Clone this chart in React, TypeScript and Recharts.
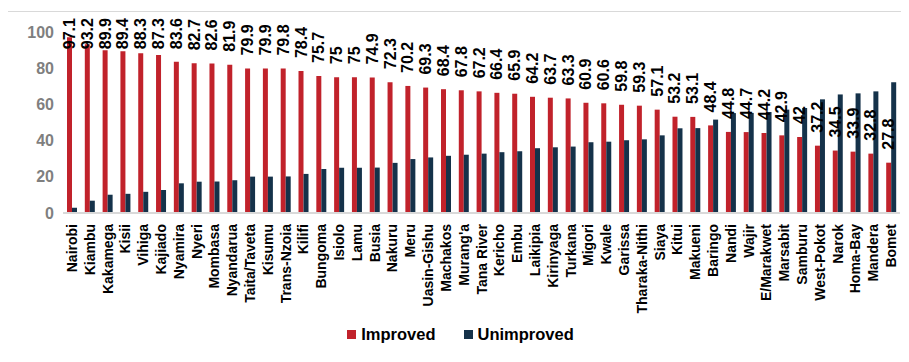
import { BarChart, Bar, XAxis, YAxis, Legend, LabelList } from 'recharts'

const counties = [
  'Nairobi', 'Kiambu', 'Kakamega', 'Kisii', 'Vihiga', 'Kajiado', 'Nyamira', 'Nyeri', 'Mombasa', 'Nyandarua',
  'Taita/Taveta', 'Kisumu', 'Trans-Nzoia', 'Kilifi', 'Bungoma', 'Isiolo', 'Lamu', 'Busia', 'Nakuru', 'Meru',
  'Uasin-Gishu', 'Machakos', "Murang'a", 'Tana River', 'Kericho', 'Embu', 'Laikipia', 'Kirinyaga', 'Turkana', 'Migori',
  'Kwale', 'Garissa', 'Tharaka-Nithi', 'Siaya', 'Kitui', 'Makueni', 'Baringo', 'Nandi', 'Wajir', 'E/Marakwet',
  'Marsabit', 'Samburu', 'West-Pokot', 'Narok', 'Homa-Bay', 'Mandera', 'Bomet',
]

const improved = [
  97.1, 93.2, 89.9, 89.4, 88.3, 87.3, 83.6, 82.7, 82.6, 81.9,
  79.9, 79.9, 79.8, 78.4, 75.7, 75, 75, 74.9, 72.3, 70.2,
  69.3, 68.4, 67.8, 67.2, 66.4, 65.9, 64.2, 63.7, 63.3, 60.9,
  60.6, 59.8, 59.3, 57.1, 53.2, 53.1, 48.4, 44.8, 44.7, 44.2,
  42.9, 42, 37.2, 34.5, 33.9, 32.8, 27.8,
]

const unimproved = [
  2.9, 6.8, 10.1, 10.6, 11.7, 12.7, 16.4, 17.3, 17.4, 18.1,
  20.1, 20.1, 20.2, 21.6, 24.3, 25, 25, 25.1, 27.7, 29.8,
  30.7, 31.6, 32.2, 32.8, 33.6, 34.1, 35.8, 36.3, 36.7, 39.1,
  39.4, 40.2, 40.7, 42.9, 46.8, 46.9, 51.6, 55.2, 55.3, 55.8,
  57.1, 58, 62.8, 65.5, 66.1, 67.2, 72.2,
]

const yTicks = [0, 20, 40, 60, 80, 100]

const RED = '#C1222B'
const NAVY = '#15324A'
const FONT = '"Liberation Sans", Arial, sans-serif'

const data = counties.map((name, i) => ({ name, improved: improved[i], unimproved: unimproved[i] }))

// labels of the red bars, drawn on the navy series so they stay on top
const ValueLabel = (props: any) => {
  const x = Number(props.x), y = Number(props.y), w = Number(props.width), h = Number(props.height)
  const v = props.value
  const bottom = y + h
  const top = bottom - (v * h) / unimproved[props.index]
  const cx = x - w / 2
  const s = String(v)
  const len = s.replace('.', '').length * 8.9 + (s.includes('.') ? 4.5 : 0)
  const ay = Math.max(top - 13, 6 + len)
  return (
    <text x={cx} y={ay} transform={`rotate(-90 ${cx} ${ay})`} textAnchor="start" dominantBaseline="central"
      fontFamily={FONT} fontSize={16} fontWeight="bold" fill="#000">{s}</text>
  )
}

const CountyTick = ({ x, y, payload }: any) => {
  const ty = y + 9
  return (
    <text x={x} y={ty} transform={`rotate(-90 ${x} ${ty})`} textAnchor="end" dominantBaseline="central"
      fontFamily={FONT} fontSize={14} fontWeight="bold" fill="#000">{payload.value}</text>
  )
}

const LegendBox = () => (
  <div style={{ display: 'flex', justifyContent: 'center', gap: 28, fontFamily: FONT, fontWeight: 'bold', fontSize: 16.5, paddingLeft: 14 }}>
    {[['Improved', RED], ['Unimproved', NAVY]].map(([label, c]) => (
      <span key={label} style={{ display: 'flex', alignItems: 'center' }}>
        <span style={{ width: 9, height: 9, background: c, marginRight: 5, display: 'inline-block' }} />
        {label}
      </span>
    ))}
  </div>
)

export default function App() {
  return (
    <div style={{ margin: '3px 0 0 -2px', width: 912, height: 360, border: '1px solid #d9d9d9' }}>
      <BarChart width={903} height={350} data={data} margin={{ top: 20, right: 10, bottom: 7, left: 0 }} barGap={0}>
        <XAxis dataKey="name" interval={0} tickLine={false} tickSize={0} height={112}
          axisLine={{ stroke: '#d9d9d9', strokeWidth: 2 }} tick={<CountyTick />} />
        <YAxis domain={[0, 100]} ticks={yTicks} width={56} axisLine={false} tickLine={false} tickSize={0} tickMargin={9}
          tick={{ fontFamily: FONT, fontSize: 16, fontWeight: 'bold', fill: '#7f7f7f' }} />
        <Legend verticalAlign="bottom" height={30} content={<LegendBox />} />
        <Bar dataKey="improved" name="Improved" fill={RED} barSize={5} isAnimationActive={false} />
        <Bar dataKey="unimproved" name="Unimproved" fill={NAVY} barSize={5} isAnimationActive={false}>
          <LabelList dataKey="improved" content={<ValueLabel />} />
        </Bar>
      </BarChart>
    </div>
  )
}
